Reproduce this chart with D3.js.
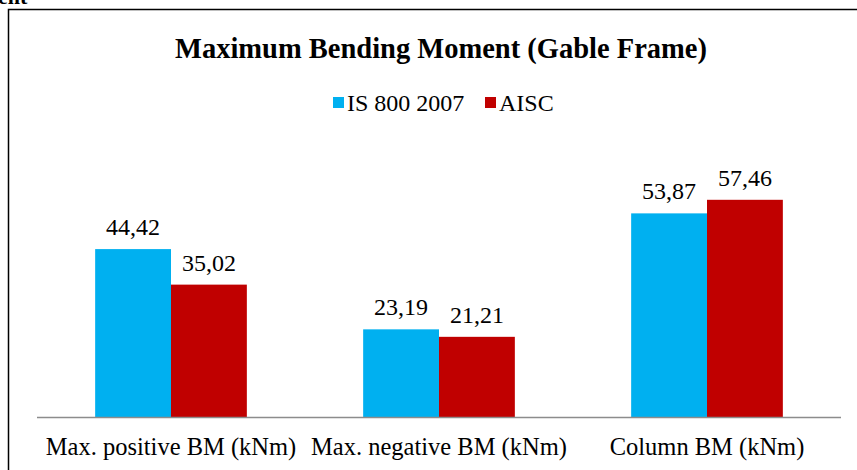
<!DOCTYPE html>
<html>
<head>
<meta charset="utf-8">
<script src="https://cdn.jsdelivr.net/npm/d3@7"></script>
</head>
<body style="margin:0;background:#fff">
<svg id="chart" width="857" height="470"></svg>
<script>
// chart data
const categories = ["Max. positive BM (kNm)", "Max. negative BM (kNm)", "Column BM (kNm)"];
const seriesNames = ["IS 800 2007", "AISC"];
const isValues = [44.42, 23.19, 53.87];
const aiscValues = [35.02, 21.21, 57.46];
const colors = ["#00b0f0", "#c00000"];

const FONT = '"Liberation Serif"';
const svg = d3.select("#chart");

// cut-off caption above the frame
svg.append("text")
    .attr("x", -2).attr("y", 4)
    .attr("font-weight", "bold")
    .attr("font-size", 22)
    .text("ent");

// chart frame (runs off right and bottom)
svg.append("path")
    .attr("d", "M8.5,480 L8.5,9.5 L870,9.5")
    .attr("fill", "none")
    .attr("stroke", "#000")
    .attr("stroke-width", 1.5);

const x0 = d3.scaleBand().domain(categories).range([37, 841]).paddingInner(0.434).paddingOuter(0.217);
const x1 = d3.scaleBand().domain(seriesNames).range([0, x0.bandwidth()]);
const y = d3.scaleLinear().domain([0, 70]).range([417, 152.4]);

const rows = categories.map((c, i) => ({ cat: c, vals: [isValues[i], aiscValues[i]] }));

const groups = svg.selectAll("g.grp").data(rows).join("g")
    .attr("class", "grp")
    .attr("transform", d => `translate(${x0(d.cat)},0)`);

groups.selectAll("rect").data(d => d.vals.map((v, j) => ({ v, s: seriesNames[j], j })))
    .join("rect")
    .attr("x", d => x1(d.s))
    .attr("width", x1.bandwidth())
    .attr("y", d => y(d.v))
    .attr("height", d => y(0) - y(d.v))
    .attr("fill", d => colors[d.j]);

groups.selectAll("text.val").data(d => d.vals.map((v, j) => ({ v, s: seriesNames[j] })))
    .join("text")
    .attr("class", "val")
    .attr("x", d => x1(d.s) + x1.bandwidth() / 2)
    .attr("y", d => y(d.v) - 14)
    .attr("text-anchor", "middle")
    .attr("font-size", 24)
    .attr("fill", "#000")
    .text(d => d.v.toFixed(2).replace(".", ","));

// baseline
svg.append("line")
    .attr("x1", 37).attr("x2", 841)
    .attr("y1", y(0) + 0.5).attr("y2", y(0) + 0.5)
    .attr("stroke", "#8c8c8c").attr("stroke-width", 1.5);

// category labels
svg.selectAll("text.cat").data(categories).join("text")
    .attr("class", "cat")
    .attr("x", d => x0(d) + x0.bandwidth() / 2)
    .attr("y", 455)
    .attr("text-anchor", "middle")
    .attr("font-size", 24.5)
    .text(d => d);

// title
svg.append("text")
    .attr("x", 441).attr("y", 58)
    .attr("text-anchor", "middle")
    .attr("font-weight", "bold")
    .attr("font-size", 28.5)
    .text("Maximum Bending Moment (Gable Frame)");

// legend
const legendX = [333, 485];
const legend = svg.selectAll("g.leg").data(seriesNames).join("g")
    .attr("class", "leg")
    .attr("transform", (d, i) => `translate(${legendX[i]},97)`);
legend.append("rect").attr("width", 11).attr("height", 11).attr("fill", (d, i) => colors[i]);
legend.append("text").attr("x", 14).attr("y", 14).attr("font-size", 24).text(d => d);

svg.selectAll("text").style("font-family", FONT);
</script>
</body>
</html>
